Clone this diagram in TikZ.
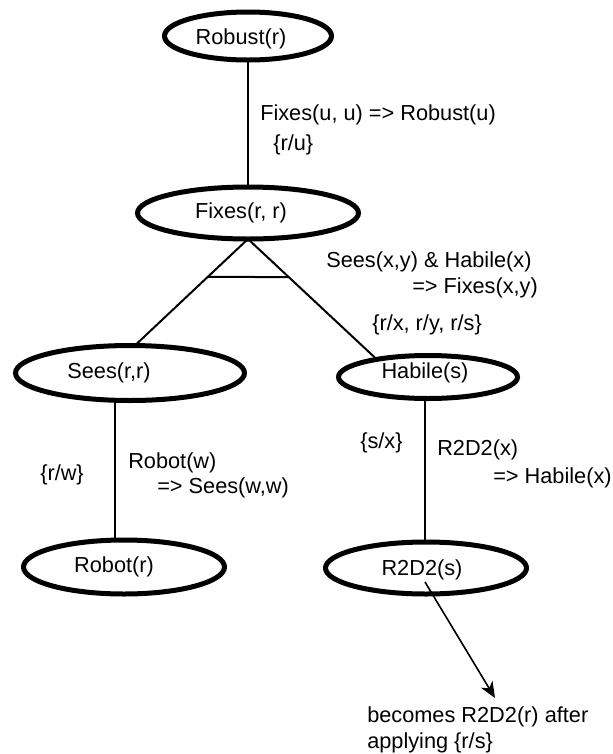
\documentclass[tikz,border=0pt]{standalone}
\usepackage{fontspec}
\setmainfont{Liberation Sans}
\usetikzlibrary{shapes.geometric,arrows.meta,calc}
\begin{document}
\begin{tikzpicture}[x=0.75pt,y=-0.75pt,
  every node/.style={font=\fontsize{16.3}{19.5}\selectfont},
  goal/.style={draw, ellipse, line width=3.75pt, inner sep=0pt, outer sep=0pt},
  edge/.style={line width=1.5pt},
  txt/.style={anchor=west, inner sep=0pt}]
\useasboundingbox (0,0) rectangle (613,754);
% goal nodes
\node[goal, minimum width=125.25pt, minimum height=36pt,
  label={[xshift=-5.25pt,yshift=-2.25pt]center:Robust(r)}] (Robust) at (248,36) {};
\node[goal, minimum width=165.75pt, minimum height=39pt,
  label={[xshift=-5.25pt]center:Fixes(r, r)}] (Fixes) at (248,213) {};
\node[goal, minimum width=171.75pt, minimum height=41.25pt,
  label={[xshift=-15.75pt]center:Sees(r,r)}] (Sees) at (130,373) {};
\node[goal, minimum width=134.25pt, minimum height=32.25pt,
  label={[xshift=-2.25pt,yshift=3pt]center:Habile(s)}] (Habile) at (428,377) {};
\node[goal, minimum width=150.75pt, minimum height=40.5pt,
  label={[xshift=-7.5pt]center:Robot(r)}] (Robot) at (124,567) {};
\node[goal, minimum width=150.75pt, minimum height=39pt,
  label={[xshift=-3pt,yshift=-1.5pt]center:R2D2(s)}] (R2D2) at (426,568) {};
% connectors
\draw[edge] (Robust.south) -- (Fixes.north);
\draw[edge] (Fixes.south) -- (Sees.80);
\draw[edge] (Fixes.south) -- (Habile.161);
\draw[edge] ($(Fixes.south)!0.355!(Sees.80)$) -- ($(Fixes.south)!0.3167!(Habile.161)$);
\draw[edge] (Sees.241) -- (Sees.241 |- Robot.north);
\draw[edge] (Habile.261) -- (Habile.261 |- R2D2.north);
\coordinate (tip) at (495,698);
\draw[line width=1.2pt, -{Stealth[length=12pt,width=10pt,inset=3.5pt]}] ($(R2D2.center)+(-1,14)$) -- (tip);
% labels
\node[txt] (l1) at (260,115) {Fixes(u, u) => Robust(u)};
\node[txt] (l2) at (273,145) {\{r/u\}};
\node[txt] (l3) at (326,262) {Sees(x,y) \& Habile(x)};
\node[txt] (l4) at (412,288) {=> Fixes(x,y)};
\node[txt] (l5) at (372,325) {\{r/x, r/y, r/s\}};
\node[txt] (l6) at (40,475) {\{r/w\}};
\node[txt] (l7) at (128,463) {Robot(w)};
\node[txt] (l8) at (157,488) {=> Sees(w,w)};
\node[txt] (l9) at (360,443) {\{s/x\}};
\node[txt] (l10) at (437,450) {R2D2(x)};
\node[txt] (l11) at (493,478) {=> Habile(x)};
\node[txt] (l12) at (367,717) {becomes R2D2(r) after};
\node[txt] (l13) at (367,743) {applying \{r/s\}};
\end{tikzpicture}
\end{document}
